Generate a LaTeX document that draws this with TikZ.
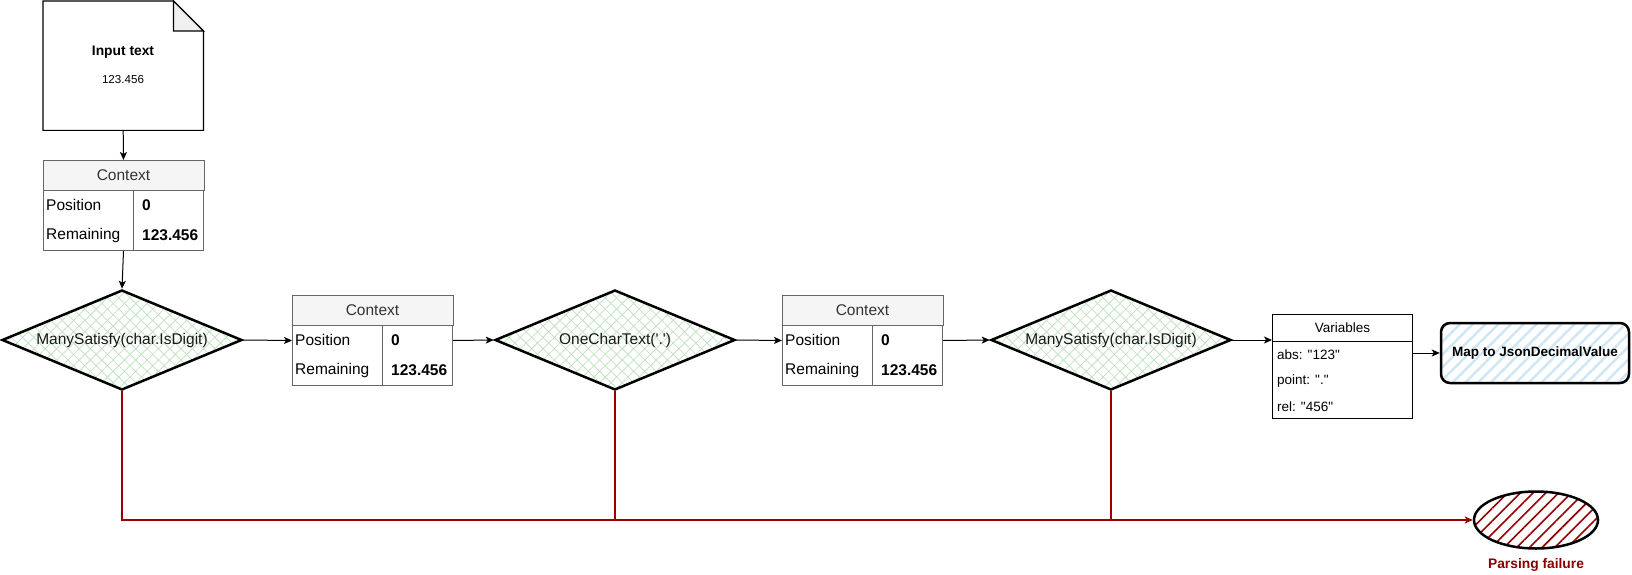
\documentclass[tikz,border=0pt]{standalone}
\usepackage{fontspec}
\setmainfont{Liberation Sans}
\newfontfamily\plainfont{Liberation Sans}
\usepackage{tikz}
\usetikzlibrary{shapes.geometric, positioning, patterns.meta, arrows.meta}

\definecolor{tablegray}{HTML}{666666}
\definecolor{headgray}{HTML}{F5F5F5}
\definecolor{headtext}{HTML}{333333}
\definecolor{foldgray}{HTML}{F0F0F0}
\definecolor{gridgreen}{HTML}{C2E3BF}
\definecolor{stripeblue}{HTML}{CFE6F5}
\definecolor{failred}{HTML}{990000}

\tikzset{
  flow/.style={-{Stealth[length=8pt,width=7pt,inset=2pt]}, line width=1pt},
  failline/.style={draw=failred, line width=1.3pt},
  parser/.style={diamond, draw, line width=2.5pt, minimum width=240pt, minimum height=100pt, inner sep=0pt,
    preaction={pattern={Lines[angle=45,distance=8pt,line width=0.8pt]}, pattern color=gridgreen},
    preaction={pattern={Lines[angle=-45,distance=8pt,line width=0.8pt]}, pattern color=gridgreen}},
  parsertext/.style={font=\plainfont\fontsize{15.5}{18}\selectfont, text=black!90},
  ctxbox/.style={draw=tablegray, line width=1pt, minimum width=160pt, minimum height=90pt, inner sep=0pt},
  ctxhead/.style={font=\fontsize{15.5}{18}\selectfont, text=headtext, inner sep=0pt},
  ctxcell/.style={font=\fontsize{15.5}{18}\selectfont, anchor=west, inner sep=0pt},
  varcell/.style={font=\plainfont\fontsize{13.5}{16}\selectfont, anchor=west, inner sep=0pt}
}

\begin{document}
\begin{tikzpicture}[x=1pt, y=-1pt]
\useasboundingbox (0,0) rectangle (1632,575);

% input document
\node (input) [minimum width=160pt, minimum height=129pt, inner sep=0pt, anchor=north west] at (43,1) {};
\draw [line width=1.2pt] (input.north west) -- ([xshift=-30pt]input.north east) -- ([yshift=-30pt]input.north east)
  -- (input.south east) -- (input.south west) -- cycle;
\draw [line width=1.2pt, fill=foldgray] ([xshift=-30pt]input.north east) -- ([xshift=-30pt, yshift=-30pt]input.north east)
  -- ([yshift=-30pt]input.north east) -- cycle;
\node (inputtitle) [font=\fontsize{13.8}{16}\selectfont\bfseries] at (123,52) {Input text};
\node (inputvalue) [font=\fontsize{11.6}{14}\selectfont] at (123,80) {123.456};

% context tables
\foreach \n/\x/\y in {ctxa/43/160, ctxb/292/295, ctxc/782/295} {
  \node (\n) [ctxbox, anchor=north west] at (\x,\y) {};
  \draw [draw=tablegray, line width=1pt, fill=headgray] (\n.north west) rectangle ([yshift=-30pt]\n.north east);
  \draw [draw=tablegray, line width=1pt] ([xshift=90pt, yshift=-30pt]\n.north west) -- ([xshift=90pt]\n.south west);
  \node (\n-head) [ctxhead] at ([yshift=-15pt]\n.north) {Context};
  \node (\n-pos) [ctxcell] at ([xshift=3pt, yshift=-45pt]\n.north west) {Position};
  \node (\n-posval) [ctxcell] at ([xshift=99pt, yshift=-45pt]\n.north west) {\bfseries 0};
  \node (\n-rem) [ctxcell] at ([xshift=3pt, yshift=-75pt]\n.north west) {Remaining};
  \node (\n-remval) [ctxcell] at ([xshift=99pt, yshift=-75pt]\n.north west) {\bfseries 123.456};
}

% parsers
\node (d1) [parser, label={[parsertext]center:ManySatisfy(char.IsDigit)}] at (122,340) {};
\node (d2) [parser, label={[parsertext]center:OneCharText('.')}] at (615,340) {};
\node (d3) [parser, label={[parsertext]center:ManySatisfy(char.IsDigit)}] at (1111,340) {};

% variables
\node (vars) [draw, line width=1pt, minimum width=140pt, minimum height=104pt, inner sep=0pt, anchor=north west] at (1272,314) {};
\draw [line width=1pt] ([yshift=-27pt]vars.north west) -- ([yshift=-27pt]vars.north east);
\node (varshead) [font=\fontsize{13.5}{16}\selectfont, inner sep=0pt] at ([yshift=-13.5pt]vars.north) {Variables};
\node (varabs) [varcell] at (1277,355) {abs: "123"};
\node (varpoint) [varcell] at (1277,381) {point: "."};
\node (varrel) [varcell] at (1277,407) {rel: "456"};

% result
\node (map) [draw, rounded corners=9pt, line width=2.5pt, minimum width=188pt, minimum height=60pt,
  font=\fontsize{13.5}{16}\selectfont\bfseries,
  preaction={pattern={Lines[angle=45,distance=9pt,line width=2.5pt]}, pattern color=stripeblue}] at (1535,353) {Map to JsonDecimalValue};

% failure
\node (fail) [ellipse, draw, line width=2.5pt, minimum width=124pt, minimum height=57pt, inner sep=0pt,
  preaction={pattern={Lines[angle=45,distance=9pt,line width=1.6pt]}, pattern color=failred}] at (1536,520) {};
\node (failtext) [font=\fontsize{13.8}{16}\selectfont\bfseries, text=failred!90!black] at (1536,565) {Parsing failure};

% connectors
\draw [flow] (input.south) -- (ctxa.north);
\draw [flow] (ctxa.south) -- (d1.north);
\draw [flow] (d1.east) -- (ctxb.west);
\draw [flow] (ctxb.east) -- (d2.west);
\draw [flow] (d2.east) -- (ctxc.west);
\draw [flow] (ctxc.east) -- (d3.west);
\draw [flow] (d3.east) -- (d3.east -| vars.west);
\draw [flow] (vars.east |- map.west) -- (map.west);
\draw [failline] (d2.south) -- (d2.south |- fail.west);
\draw [failline] (d3.south) -- (d3.south |- fail.west);
\draw [failline, flow, draw=failred, line width=1.3pt] (d1.south) |- (fail.west);
\end{tikzpicture}
\end{document}
